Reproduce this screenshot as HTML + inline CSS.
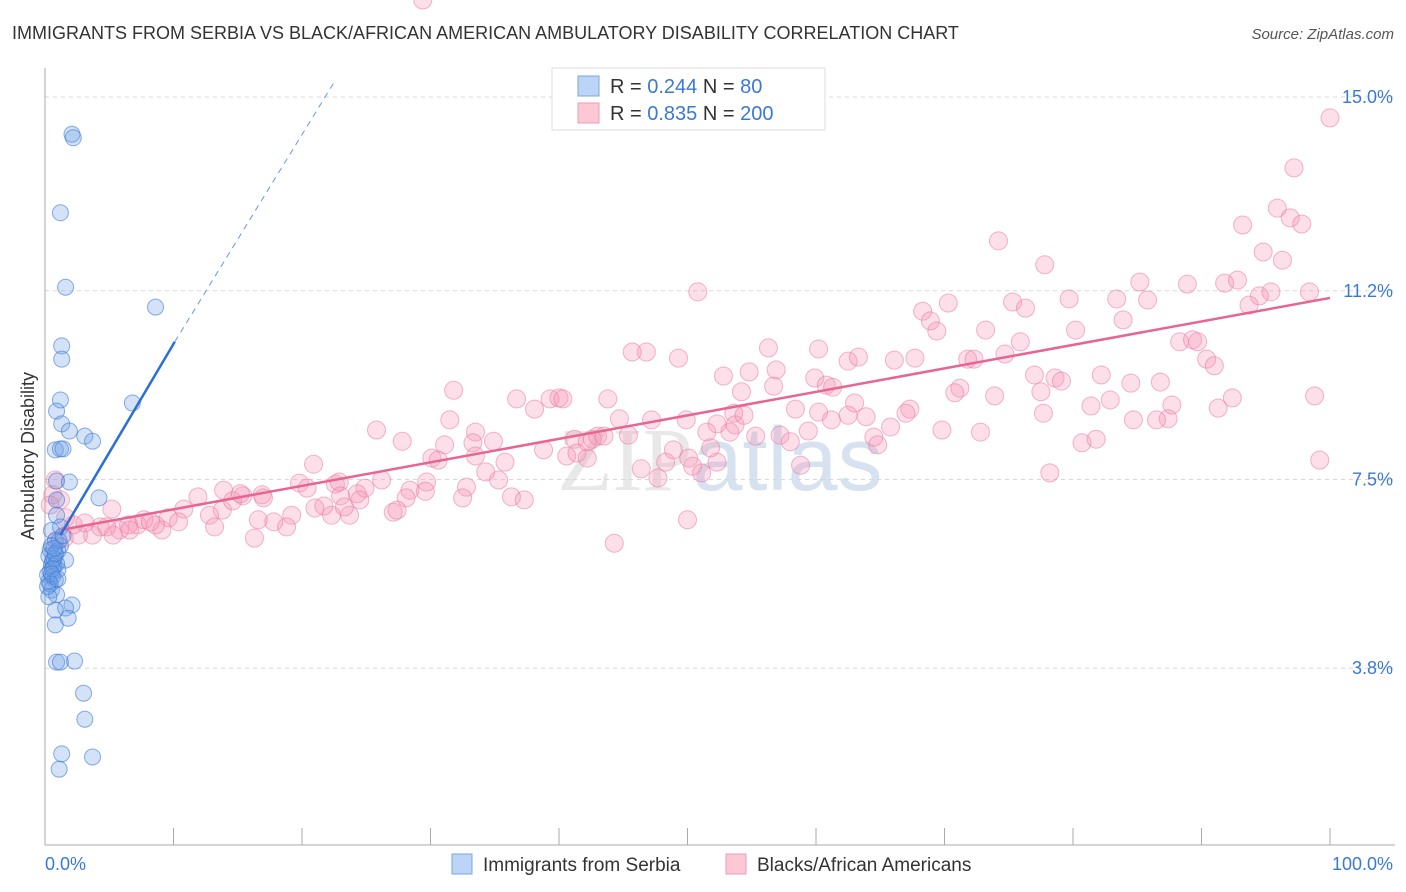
<!DOCTYPE html>
<html><head><meta charset="utf-8"><style>
body{margin:0;background:#fff;font-family:"Liberation Sans",sans-serif;}
#c{position:absolute;left:0;top:0;}
</style></head><body>
<svg id="c" width="1406" height="892">
<text x="12" y="39" font-size="18" fill="#333">IMMIGRANTS FROM SERBIA VS BLACK/AFRICAN AMERICAN AMBULATORY DISABILITY CORRELATION CHART</text>
<text x="1394" y="39" font-size="15" fill="#555" font-style="italic" text-anchor="end">Source: ZipAtlas.com</text>
<text x="34" y="456" font-size="18" fill="#333" text-anchor="middle" transform="rotate(-90 34 456)">Ambulatory Disability</text>
<text x="720" y="490" font-size="90" fill="#e8e8e8" text-anchor="middle" font-family="Liberation Serif">ZIP<tspan fill="#d6e2f0" font-family="Liberation Sans">atlas</tspan></text>
<g id="grid"></g><g id="marks"></g><g id="trend"></g>
<g>
<rect x="552" y="68" width="273" height="62" fill="#fff" stroke="#ddd"/>
<rect x="578" y="76" width="21" height="20" fill="#bcd4f5" stroke="#7aa6e6"/>
<rect x="578" y="103" width="21" height="20" fill="#fbc8d6" stroke="#f09ab3"/>
<text x="610" y="93" font-size="20" fill="#333">R = <tspan fill="#3a78d8">0.244</tspan>   N =  <tspan fill="#3a78d8">  80</tspan></text>
<text x="610" y="120" font-size="20" fill="#333">R = <tspan fill="#3a78d8">0.835</tspan>   N = <tspan fill="#3a78d8">200</tspan></text>
</g>
<g>
<rect x="452" y="854" width="20" height="20" fill="#bcd4f5" stroke="#7aa6e6"/>
<text x="483" y="871" font-size="19" fill="#333">Immigrants from Serbia</text>
<rect x="726" y="854" width="20" height="20" fill="#fbc8d6" stroke="#f09ab3"/>
<text x="757" y="871" font-size="19" fill="#333">Blacks/African Americans</text>
</g>
</svg>
<script>
const xTickLabels=["0.0%","100.0%"];
const yTicks=[15.0,11.2,7.5,3.8];
const yTickLabels=["15.0%","11.2%","7.5%","3.8%"];
const blueX=[2.1,2.2,1.2,1.6,8.6,1.3,1.3,1.2,6.8,0.9,1.3,1.9,3.1,3.7,0.8,1.2,1.4,0.9,1.9,4.2,0.9,0.9,1.2,0.5,0.8,1.2,0.4,0.8,1.6,0.5,1.0,0.2,0.8,0.5,0.9,2.1,1.6,0.8,1.8,0.8,0.9,1.2,2.3,3.0,3.1,1.3,3.7,1.1,0.3,0.6,0.7,1.0,0.4,0.6,0.9,0.3,0.5,1.1,0.7,0.4,0.6,0.8,1.4,0.2,0.5,1.0,0.7,0.3];
const blueY=[14.27,14.2,12.73,11.27,10.88,10.12,9.86,9.06,9.0,8.84,8.59,8.45,8.35,8.25,8.08,8.1,8.1,7.47,7.45,7.14,7.1,6.8,6.57,6.5,6.3,6.2,6.12,6.02,5.92,5.82,5.73,5.63,5.53,5.33,5.24,5.04,4.98,4.94,4.78,4.65,3.92,3.92,3.94,3.31,2.8,2.12,2.06,1.82,6.0,5.9,5.8,6.1,5.7,5.6,5.85,5.5,6.2,6.3,5.95,5.45,5.75,6.05,6.4,5.4,5.65,5.55,6.15,5.2];
const pinkX=[100,97.2,95.9,96.9,97.8,93.2,74.2,94.8,96.3,77.8,85.2,88.9,91.8,92.8,50.8,95.4,94.5,98.4,79.7,85.8,83.4,75.3,76.3,70.3,93.7,68.3,68.9,69.4,80.2,83.9,73.2,56.3,60.2,62.5,63.3,66.1,67.7,45.7,46.8,49.3,52.8,54.8,56.9,71.8,72.3,74.7,75.9,88.3,89.3,89.7,90.4,91.0,82.2,77.0,78.6,79.1,77.5,71.2,70.8,84.5,86.8,59.9,60.8,61.3,56.7,54.2,63.0,67.3,67.0,58.4,53.6,52.3,63.9,65.8,64.5,64.8,92.4,91.3,87.7,98.8,81.4,82.9,87.4,86.5,84.7,72.8,69.8,73.9,31.8,36.7,38.1,39.3,40.0,40.3,43.8,44.7,47.2,49.9,51.5,53.3,55.3,57.2,59.4,58.0,43.0,42.6,43.5,41.2,40.6,41.4,42.2,38.8,45.4,48.9,48.3,50.1,52.3,50.4,46.4,47.7,58.8,80.7,81.8,78.2,99.2,31.5,33.5,34.9,33.3,33.5,31.1,30.1,30.6,27.8,25.8,26.2,24.9,24.3,22.6,22.9,20.9,19.8,20.4,23.0,24.5,28.4,29.7,29.6,32.8,32.5,34.3,36.3,35.8,37.3,28.1,27.1,27.4,23.7,22.3,21.7,19.2,17.8,16.6,18.8,16.9,15.4,13.9,13.8,12.8,13.2,11.9,10.8,9.6,9.1,8.6,7.2,7.7,6.5,5.8,5.3,4.8,4.3,3.7,3.1,2.6,2.2,1.6,1.2,0.8,0.6,0.4,44.3,35.3,42.2,51.8,53.7,61.2,62.5,54.4,60.2,77.7,51.1,50.0,17.0,14.6,16.3,0.9,1.5,6.6,8.2,10.4,5.2,15.2,21.0,23.3,29.4];
const pinkY=[14.59,13.61,12.82,12.63,12.51,12.49,12.18,11.96,11.80,11.71,11.37,11.33,11.35,11.41,11.18,11.18,11.10,11.18,11.04,11.02,11.04,10.98,10.86,10.96,10.92,10.80,10.61,10.41,10.43,10.63,10.43,10.08,10.06,9.82,9.90,9.84,9.88,10.0,10.0,9.88,9.53,9.61,9.65,9.86,9.86,9.96,10.20,10.20,10.24,10.20,9.86,9.73,9.55,9.55,9.49,9.43,9.22,9.29,9.20,9.39,9.41,9.49,9.35,9.31,9.33,9.22,9.0,8.88,8.80,8.88,8.80,8.59,8.73,8.53,8.33,8.18,9.10,8.90,8.96,9.14,8.94,9.06,8.69,8.67,8.67,8.43,8.47,9.14,9.25,9.08,8.88,9.08,9.10,9.08,9.08,8.69,8.67,8.67,8.43,8.43,8.35,8.37,8.45,8.24,8.35,8.29,8.35,8.29,7.96,8.02,7.92,8.08,8.37,8.08,7.84,7.92,7.84,7.76,7.71,7.53,7.78,8.22,8.29,7.63,7.88,8.67,8.43,8.25,8.22,7.96,8.18,7.92,7.88,8.25,8.47,7.49,7.33,7.22,7.41,7.45,7.80,7.43,7.33,7.18,7.10,7.29,7.45,7.27,7.35,7.14,7.65,7.16,7.84,7.10,7.14,6.86,6.90,6.80,6.80,6.98,6.80,6.67,6.71,6.57,7.20,7.18,7.29,6.90,6.80,6.57,7.16,6.92,6.75,6.51,6.61,6.61,6.71,6.61,6.51,6.41,6.57,6.57,6.41,6.65,6.41,6.61,6.75,7.10,7.49,7.20,7.0,6.25,7.49,8.24,8.12,8.57,8.67,8.76,8.76,8.82,8.80,7.63,6.71,7.14,7.08,6.35,6.31,6.35,6.51,6.67,6.67,6.92,7.22,6.94,6.96];
const blueTrend=[[1.2,6.41],[10.1,10.2]];
const blueDash=[[10.1,10.2],[22.6,15.33]];
const pinkTrend=[[1.2,6.51],[100,11.06]];
const X0=45,X1=1330,Y15=97,PXPER=51;
const sx=v=>X0+(X1-X0)*v/100;
const sy=v=>Y15+(15-v)*PXPER;
const NS="http://www.w3.org/2000/svg";
function mk(parent,tag,attrs){const e=document.createElementNS(NS,tag);for(const k in attrs)e.setAttribute(k,attrs[k]);parent.appendChild(e);return e;}
const grid=document.getElementById('grid');
yTicks.forEach((t,i)=>{
 const l=mk(grid,'line',{x1:X0,x2:1395,y1:sy(t),y2:sy(t),stroke:'#d8d8d8','stroke-dasharray':'4,4'});
 
 
 const tx=mk(grid,'text',{x:1393,y:sy(t)+6,'font-size':18,fill:'#3a78d8','text-anchor':'end'});
 tx.textContent=yTickLabels[i];
 
 
});
const ax=mk(grid,'line',{x1:X0,x2:X0,y1:68,y2:845,stroke:'#aaa'});


const bx=mk(grid,'line',{x1:X0,x2:1395,y1:845,y2:845,stroke:'#aaa'});


for(let i=0;i<=10;i++){
 const t=mk(grid,'line',{x1:sx(i*10),x2:sx(i*10),y1:828,y2:845,stroke:'#aaa'});
 
 
}
[[0,'start'],[100,'end']].forEach((p,i)=>{
 const tx=mk(grid,'text',{x:i?1393:45,y:870,'font-size':18,fill:'#3a78d8','text-anchor':p[1]});
 tx.textContent=xTickLabels[i];
 
 
});
const marks=document.getElementById('marks');
pinkX.forEach((x,i)=>{
 const c=mk(marks,'circle',{cx:sx(x),cy:sy(pinkY[i]),r:9,fill:'rgba(244,150,180,0.3)',stroke:'rgba(236,120,160,0.55)','stroke-width':1});
 
 
});
blueX.forEach((x,i)=>{
 const c=mk(marks,'circle',{cx:sx(x),cy:sy(blueY[i]),r:8,fill:'rgba(110,160,230,0.3)',stroke:'rgba(60,120,215,0.6)','stroke-width':1});
 
 
});
const tr=document.getElementById('trend');
const l1=mk(tr,'line',{x1:sx(pinkTrend[0][0]),y1:sy(pinkTrend[0][1]),x2:sx(pinkTrend[1][0]),y2:sy(pinkTrend[1][1]),stroke:'#e8658f','stroke-width':2.5});


const l2=mk(tr,'line',{x1:sx(blueTrend[0][0]),y1:sy(blueTrend[0][1]),x2:sx(blueTrend[1][0]),y2:sy(blueTrend[1][1]),stroke:'#2a6fd6','stroke-width':2.5});


const l3=mk(tr,'line',{x1:sx(blueDash[0][0]),y1:sy(blueDash[0][1]),x2:sx(blueDash[1][0]),y2:sy(blueDash[1][1]),stroke:'#6a9be0','stroke-width':1,'stroke-dasharray':'6,5'});


</script>
</body></html>
